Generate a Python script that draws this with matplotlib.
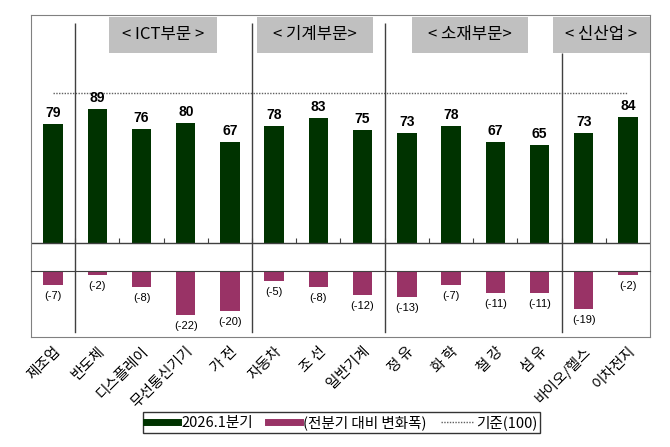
import matplotlib.pyplot as plt
from matplotlib.patches import Rectangle
from matplotlib.lines import Line2D

plt.rcParams['font.family'] = ['Noto Sans CJK KR', 'DejaVu Sans']

# data
categories = ['제조업', '반도체', '디스플레이', '무선통신기기', '가 전', '자동차', '조 선', '일반기계',
              '정 유', '화 학', '철 강', '섬 유', '바이오/헬스', '이차전지']
values = [79, 89, 76, 80, 67, 78, 83, 75, 73, 78, 67, 65, 73, 84]
changes = [-7, -2, -8, -22, -20, -5, -8, -12, -13, -7, -11, -11, -19, -2]
groups = ['< ICT부문 >', '< 기계부문>', '< 소재부문>', '< 신산업 >']
baseline = 100

green = '#003300'
purple = '#993366'
x = list(range(len(categories)))

fig = plt.figure(figsize=(6.7, 4.47), dpi=100)
ax1 = fig.add_axes([0.0463, 0.3937, 0.9238, 0.5727])
ax2 = fig.add_axes([0.0463, 0.2461, 0.9238, 0.1476])

ax1.bar(x, values, width=0.44, color=green, zorder=2)
ax1.set_xlim(-0.5, 13.5)
ax1.set_ylim(-18.7, 152)
ax1.axhline(0, color='#404040', lw=1)
ax1.hlines(baseline, 0, 13, color='#606060', lw=1, linestyles=(0, (1, 1)))
for xi, v in zip(x, values):
    ax1.annotate(str(v), (xi, v), xytext=(0, 3), textcoords='offset points',
                 ha='center', va='bottom', fontsize=10, fontweight='bold',
                 family=['Liberation Sans', 'DejaVu Sans'])

# small ticks between categories
ax1.vlines([i + 0.5 for i in range(13)], 0, 3, color='#404040', lw=0.8)

# separators and group boxes
seps = [0.5, 4.5, 7.5, 11.5]
sep_top = [147, 147, 147, 126.7]
for s, t in zip(seps, sep_top):
    ax1.vlines(s, -20, t, color='#404040', lw=1)
    ax2.axvline(s, ymin=0.07, ymax=1, color='#404040', lw=1)

boxes = [(1.264, 3.707), (4.61, 7.24), (8.12, 10.74), (11.31, 13.5)]
for (a, b), g in zip(boxes, groups):
    ax1.add_patch(Rectangle((a, 126.7), b - a, 24, facecolor='#c0c0c0', edgecolor='none', zorder=3))
    ax1.text((a + b) / 2, 138.7, g, ha='center', va='center', fontsize=12, zorder=4)

ax2.bar(x, changes, width=0.44, color=purple)
ax2.set_xlim(-0.5, 13.5)
ax2.set_ylim(-33, 0)
for xi, c in zip(x, changes):
    ax2.annotate('(%d)' % c, (xi, c), xytext=(0, -4), textcoords='offset points',
                 ha='center', va='top', fontsize=8,
                 family=['Liberation Sans', 'DejaVu Sans'])

for ax in (ax1, ax2):
    ax.set_yticks([])
    for sp in ax.spines.values():
        sp.set_color('#808080')
ax1.spines['bottom'].set_visible(False)
ax2.spines['top'].set_color('#404040')
ax1.set_xticks([])
ax2.set_xticks(x)
ax2.set_xticklabels(categories, rotation=45, ha='right', rotation_mode='anchor', fontsize=10.5)
ax2.tick_params(axis='x', length=0, pad=5)

handles = [Line2D([], [], color=green, lw=5),
           Line2D([], [], color=purple, lw=5),
           Line2D([], [], color='#606060', lw=1, ls=(0, (1, 1)))]
fig.legend(handles, ['2026.1분기', '(전분기 대비 변화폭)', '기준(100)'],
           loc='center', bbox_to_anchor=(0.51, 0.055), ncol=3, fontsize=10.5,
           frameon=True, fancybox=False, edgecolor='black', handlelength=2.2,
           borderpad=0.2, columnspacing=1.0, handletextpad=0.2)

fig.savefig('out.png', dpi=100)
